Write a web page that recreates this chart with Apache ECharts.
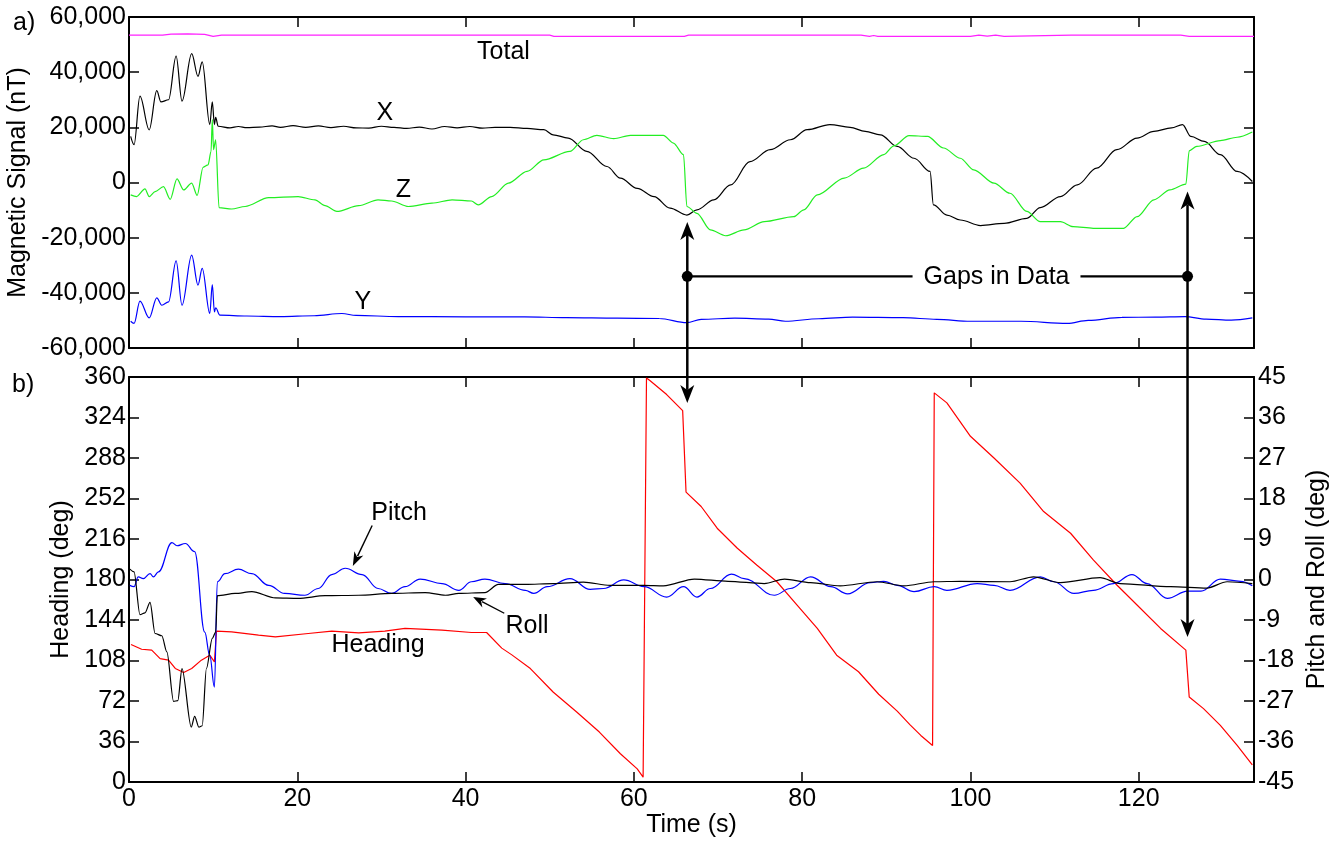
<!DOCTYPE html>
<html>
<head>
<meta charset="utf-8">
<title>Magnetic signal and attitude</title>
<script src="https://cdn.jsdelivr.net/npm/echarts@6/dist/echarts.min.js"></script>
<style>
  html, body { margin: 0; padding: 0; background: #fff; }
  #chart { width: 1334px; height: 842px; }
</style>
</head>
<body>
<div id="chart"></div>
<script>
var tMax = 133.7;

// a) magnetic field, nT
var totalT = [0, 4, 5, 7, 9, 10, 11, 30, 50, 50.5, 66, 66.5, 87, 88, 88.5, 89, 100, 101, 102, 103, 104, 112, 125, 126, 133.7];
var totalV = [53400, 53400, 53800, 53900, 53700, 53000, 53400, 53400, 53400, 53000, 53000, 53400, 53400, 53000, 53300, 53000, 53000, 53400, 53100, 53400, 53000, 53400, 53400, 53000, 53000];

var xT = [0.2, 0.6, 1.3, 2.4, 3.3, 3.8, 4.7, 5.6, 6.3, 7.45, 8.2, 8.7, 9.6, 9.9, 10.15, 10.3, 10.6, 12, 13, 14, 15.5, 17, 18, 19.5, 21, 22.5, 24, 25.5, 27, 28.5, 30, 31.5, 33, 34.5, 36, 37.5, 39, 40.5, 42, 43.5, 45.3, 47.3, 49.3, 50.4, 52.2, 54.4, 56.8, 58.4, 60.4, 62.4, 64.3, 66.3, 67.5, 69.5, 71.5, 73.8, 76.2, 78.6, 80.6, 83.3, 85.7, 87.5, 89.3, 91.3, 93.3, 95.2, 95.6, 97.2, 98.8, 101.2, 104.0, 106.7, 108.3, 110.7, 112.7, 115.0, 117.4, 119.8, 121.8, 123.9, 125.2, 126.2, 127.8, 129.7, 131.7, 133.5];
var xV = [16700, 13700, 31300, 19100, 33300, 29200, 30000, 45800, 29500, 46700, 38500, 43700, 21000, 29200, 21000, 23600, 20400, 19800, 20300, 19900, 20100, 20500, 20000, 20600, 20000, 20500, 19900, 20400, 19800, 19700, 20400, 20000, 19600, 20100, 19400, 20300, 19800, 20300, 19700, 20000, 20000, 19600, 19150, 17300, 16100, 11300, 5800, 1600, -2100, -5100, -9300, -11800, -9900, -6300, -850, 7600, 11900, 15500, 19150, 21000, 20000, 18500, 17300, 13100, 8800, 4000, -8100, -11800, -13600, -15600, -14800, -13000, -9100, -5100, -850, 5200, 11900, 16100, 18500, 19800, 21000, 16700, 14900, 10100, 4000, 360];

var zT = [0.2, 0.9, 1.9, 2.4, 3.1, 4.1, 4.9, 5.7, 6.5, 7.45, 8.1, 8.8, 9.4, 9.75, 9.9, 10.05, 10.3, 10.7, 12.2, 13.8, 16.6, 20.1, 22.1, 23.3, 24.7, 27.3, 29.6, 31.2, 33.2, 36.0, 38.4, 40.7, 41.5, 43.1, 45.1, 47.3, 49.3, 52.4, 54.0, 55.6, 57.6, 59.6, 63.5, 64.7, 65.9, 66.3, 67.5, 69.1, 70.9, 73.1, 75.5, 79.0, 80.2, 81.8, 85.0, 87.3, 89.7, 90.9, 92.7, 94.9, 96.8, 98.8, 100.4, 102.8, 104.7, 106.7, 108.3, 110.7, 112.2, 114.6, 118.2, 119.8, 121.8, 123.7, 125.6, 126.0, 126.9, 129.7, 131.7, 133.5];
var zV = [-4500, -5100, -2300, -5100, -3300, -1500, -6100, 1300, -2700, -200, -4700, 5500, 6400, 11300, 22800, 11900, 15500, -9100, -9600, -8700, -5500, -5100, -6300, -8400, -10500, -8400, -6300, -6700, -8700, -7500, -6300, -6700, -8100, -5100, -240, 4000, 8200, 11300, 15500, 17100, 15900, 17100, 17100, 14300, 10100, -8700, -11200, -17200, -19300, -17200, -14200, -12400, -9900, -4500, 1600, 5200, 10100, 13300, 17000, 16700, 12500, 8800, 4600, -240, -3900, -10500, -14200, -14200, -16000, -16600, -16600, -12400, -6300, -2700, -600, 11500, 13100, 15200, 16400, 18300];

var yT = [0.2, 0.6, 1.3, 2.4, 3.3, 3.9, 4.7, 5.6, 6.3, 7.45, 8.2, 8.7, 9.6, 9.9, 10.15, 10.3, 10.8, 14, 18, 22, 25.3, 27, 32, 40, 47, 52, 58, 63, 66.3, 68, 72, 76, 78, 82, 86, 92, 96, 100, 106, 111.5, 114, 118, 122, 125.5, 128, 131, 133.5];
var yV = [-50300, -51100, -43000, -49100, -41800, -44500, -43300, -28400, -44500, -26300, -37200, -31100, -47500, -37000, -46900, -45400, -48100, -48400, -48600, -48300, -47500, -48200, -48600, -48700, -48700, -49000, -49200, -49300, -50800, -49600, -49200, -49500, -50300, -49400, -48800, -49000, -49600, -50300, -50300, -51100, -50000, -48900, -48800, -48600, -49500, -49900, -49100];

// b) attitude, deg
var headT = [0.24, 1.5, 2.7, 3.7, 4.7, 5.5, 6.5, 7.45, 8.6, 9.6, 10.15, 10.4, 12.2, 15.4, 17.4, 21.3, 24.1, 27.3, 30.4, 32.8, 37.2, 40.7, 42.5, 44.3, 45.5, 47.7, 50.4, 53.2, 55.9, 58.4, 60.4, 61.1, 61.3, 61.5, 61.9, 63.9, 65.8, 66.2, 68.0, 69.9, 72.3, 74.6, 77.0, 79.4, 81.8, 84.1, 86.7, 89.1, 91.3, 92.8, 94.1, 95.5, 95.7, 97.2, 100.0, 102.8, 105.9, 108.7, 111.9, 114.6, 117.4, 119.8, 122.6, 125.6, 126.0, 127.7, 129.7, 131.7, 133.5];
var headV = [122.2, 118, 117.2, 109.7, 108.3, 100.9, 97.3, 100.9, 108.3, 112.7, 106.8, 134.1, 133.5, 130.5, 129, 132, 134.1, 132.6, 134.1, 136.5, 135, 132.9, 132.9, 119, 113, 100.8, 80, 62.2, 44.4, 25.1, 11.7, 4.3, 4.3, 359.2, 356.9, 344.4, 330.1, 257.7, 244.9, 225.6, 207.8, 192.9, 178, 157.3, 136.5, 112.7, 98, 78, 63, 51, 41.4, 32.5, 345.9, 337, 307.3, 288, 265.7, 240.4, 221.1, 197.4, 175.1, 157.3, 136.5, 117.2, 75.6, 65.2, 50.3, 32.5, 15.3];

var pitchT = [0.1, 0.6, 1.1, 1.7, 2.5, 2.9, 3.5, 5.1, 5.7, 6.7, 7.8, 9.0, 9.6, 10.15, 10.5, 11.4, 13.0, 14.6, 16.6, 18.5, 20.9, 22.5, 24.1, 25.7, 27.7, 29.6, 31.2, 32.8, 34.6, 37.2, 39.2, 40.7, 42.3, 44.7, 47.1, 48.1, 49.7, 52.4, 54.8, 56.4, 58.8, 61.2, 63.9, 65.9, 67.5, 69.1, 71.6, 73.1, 76.7, 78.6, 81.0, 83.4, 85.4, 88.1, 89.7, 91.3, 93.3, 95.7, 97.2, 100.8, 102.8, 104.7, 108.3, 109.9, 112.3, 114.6, 117.0, 119.2, 121.0, 123.4, 125.8, 127.4, 129.7, 132.1, 133.5];
var pitchV = [-1.3, -1.6, 0.6, 0.2, 1.3, 0.6, 1.7, 8.2, 7.5, 8.0, 6.2, -11.7, -16.9, -23.9, -0.5, 1.3, 2.3, 1.3, -1.3, -3.1, -3.5, -2.0, 1.1, 2.5, 1.1, -2.0, -3.1, -1.6, 0.1, -0.9, -2.4, -0.5, 0.1, -0.9, -2.4, -3.1, -1.6, 0.2, -2.2, -2.0, -0.1, -1.6, -3.9, -1.6, -3.9, -2.0, 1.2, 0.2, -3.5, -2.0, 0.6, -1.6, -3.2, -0.7, -0.4, -1.3, -2.7, -1.6, -2.4, -0.9, -1.3, -2.4, 0.6, -0.5, -3.1, -2.4, -0.9, 1.1, -0.9, -4.2, -2.6, -2.6, 0.1, -0.4, -1.4];

var rollT = [0.1, 0.6, 1.3, 1.9, 2.5, 3.1, 3.9, 4.5, 5.3, 5.8, 6.3, 7.4, 7.8, 8.3, 8.7, 9.2, 9.9, 10.3, 10.5, 12.6, 14.6, 17.4, 20.1, 23.3, 27.3, 31.2, 35.2, 37.6, 39.2, 42.3, 43.9, 47.1, 50.4, 54, 57.2, 61.2, 63.5, 67.2, 71.2, 75.5, 77.9, 81.0, 84.5, 88.9, 92.1, 95.7, 98.8, 104.7, 107.5, 110.7, 115.4, 117.8, 123.8, 128.1, 130.5, 133.5];
var rollV = [2.3, 1.7, -7.8, -7.4, -5.1, -12, -12.5, -16.1, -27.1, -26.9, -19.8, -32.8, -30.4, -32.8, -32.5, -19.8, -13.1, -11.7, -3.6, -3.1, -2.7, -4.1, -4.2, -3.6, -3.5, -3.1, -2.9, -3.5, -3.1, -2.9, -1.1, -1.1, -0.9, -0.6, -1.3, -1.3, -1.4, 0.1, -0.4, -0.9, 0.1, -0.7, -1.4, -0.5, -1.4, -0.5, -0.4, -0.5, 0.6, -0.7, 0.4, -0.9, -1.6, -1.9, -0.5, -0.9];

var font = '"Liberation Sans", Arial, Helvetica, sans-serif';

function zip(t, v) {
  return t.map(function (x, i) { return [x, v[i]]; });
}

function timeAxis(grid, pos, labels, name) {
  return {
    type: 'value', gridIndex: grid, position: pos,
    min: 0, max: tMax, interval: 20,
    name: name || '', nameLocation: 'middle', nameGap: 31,
    nameTextStyle: {color: '#000', fontSize: 25, fontFamily: font},
    axisLine: {show: true, onZero: false, lineStyle: {color: '#000', width: 2}},
    axisTick: {show: true, inside: true, length: 10, lineStyle: {color: '#000', width: 1.5}},
    splitLine: {show: false},
    axisLabel: {
      show: labels, margin: 5, color: '#000', fontSize: 25, fontFamily: font,
      formatter: function (v) { return v % 20 === 0 ? String(v) : ''; }
    }
  };
}

function valueAxis(grid, pos, min, max, step, labels, name, gap, margin) {
  return {
    type: 'value', gridIndex: grid, position: pos,
    min: min, max: max, interval: step,
    name: name || '', nameLocation: 'middle', nameGap: gap || 0,
    nameTextStyle: {color: '#000', fontSize: 25, fontFamily: font},
    axisLine: {show: true, onZero: false, lineStyle: {color: '#000', width: 2}},
    axisTick: {show: true, inside: true, length: 10, lineStyle: {color: '#000', width: 1.5}},
    splitLine: {show: false},
    axisLabel: {show: labels, margin: margin || 4, color: '#000', fontSize: 25, fontFamily: font}
  };
}

function line(name, x, y, data, color, smooth) {
  return {
    name: name, type: 'line', xAxisIndex: x, yAxisIndex: y,
    data: data, showSymbol: false, symbol: 'none',
    smooth: smooth || false, smoothMonotone: 'x',
    lineStyle: {color: color, width: 1.2}
  };
}

var chart = echarts.init(document.getElementById('chart'));

chart.setOption({
  animation: false,
  backgroundColor: '#fff',
  textStyle: {fontFamily: font},
  grid: [
    {left: 129, right: 80, top: 17, height: 331, outerBoundsMode: 'none'},
    {left: 129, right: 80, top: 377, height: 405, outerBoundsMode: 'none'}
  ],
  xAxis: [
    timeAxis(0, 'bottom', false),
    timeAxis(0, 'top', false),
    timeAxis(1, 'bottom', true, 'Time (s)'),
    timeAxis(1, 'top', false)
  ],
  yAxis: [
    valueAxis(0, 'left', -60000, 60000, 20000, true, 'Magnetic Signal (nT)', 96, 3),
    valueAxis(0, 'right', -60000, 60000, 20000, false),
    valueAxis(1, 'left', 0, 360, 36, true, 'Heading (deg)', 55, 3),
    valueAxis(1, 'right', -45, 45, 9, true, 'Pitch and Roll (deg)', 43, 4)
  ],
  series: [
    line('Total', 0, 0, zip(totalT, totalV), '#ff22ff'),
    line('X', 0, 0, zip(xT, xV), '#000000', 0.35),
    line('Z', 0, 0, zip(zT, zV), '#22ee22', 0.3),
    line('Y', 0, 0, zip(yT, yV), '#0000ff', 0.35),
    line('Heading', 2, 2, zip(headT, headV), '#ff0000'),
    line('Pitch', 2, 3, zip(pitchT, pitchV), '#0000ff', 0.4),
    line('Roll', 2, 3, zip(rollT, rollV), '#000000', 0.3)
  ]
});

// annotations, placed in data coordinates
function topPx(p) { return chart.convertToPixel({seriesIndex: 0}, p); }
function botPx(p) { return chart.convertToPixel({seriesIndex: 4}, p); }

function label(text, p, extra) {
  var s = {
    text: text, fill: '#000', fontSize: 25, fontFamily: font,
    align: 'center', verticalAlign: 'middle',
    textAlign: 'center', textVerticalAlign: 'middle'
  };
  for (var k in extra) s[k] = extra[k];
  return {type: 'text', x: p[0], y: p[1], z: 20, style: s};
}

function back(tip, tail, d) {
  var dx = tip[0] - tail[0], dy = tip[1] - tail[1];
  var n = Math.sqrt(dx * dx + dy * dy);
  return [tip[0] - dx / n * d, tip[1] - dy / n * d];
}

function head(tip, tail, len, half, notch) {
  var dx = tip[0] - tail[0], dy = tip[1] - tail[1];
  var n = Math.sqrt(dx * dx + dy * dy);
  dx /= n; dy /= n;
  var bx = tip[0] - dx * len, by = tip[1] - dy * len;
  return {
    type: 'polygon', z: 15,
    shape: {points: [tip, [bx - dy * half, by + dx * half], back(tip, tail, len - notch), [bx + dy * half, by - dx * half]]},
    style: {fill: '#000'}
  };
}

function seg(a, b, w) {
  return {type: 'line', z: 10, shape: {x1: a[0], y1: a[1], x2: b[0], y2: b[1]}, style: {stroke: '#000', lineWidth: w}};
}

function doubleArrow(a, b) {
  return [
    seg(back(a, b, 13), back(b, a, 13), 2.5),
    head(a, b, 18, 7, 5),
    head(b, a, 18, 7, 5)
  ];
}

function arrow(tail, tip, len, half) {
  return [seg(tail, back(tip, tail, len - 3), 1.4), head(tip, tail, len, half, 4)];
}

var gapA = [topPx([66.35, -14300]), botPx([66.35, 337])];
var gapB = [topPx([125.8, -3300]), botPx([125.8, 129])];
var dotA = topPx([66.35, -34000]);
var dotB = topPx([125.8, -34000]);
var pitchArrow = [botPx([28.9, 228]), botPx([26.6, 192])];
var rollArrow = [botPx([44.6, 150]), botPx([40.9, 164.4])];

var els = [];
els = els.concat(doubleArrow(gapA[0], gapA[1]), doubleArrow(gapB[0], gapB[1]));
els.push(seg(dotA, dotB, 2.2));
els.push({type: 'circle', z: 16, shape: {cx: dotA[0], cy: dotA[1], r: 5.5}, style: {fill: '#000'}});
els.push({type: 'circle', z: 16, shape: {cx: dotB[0], cy: dotB[1], r: 5.5}, style: {fill: '#000'}});
els.push(label('Gaps in Data', topPx([103.1, -34400]), {backgroundColor: '#fff', padding: [2, 11]}));
els = els.concat(arrow(pitchArrow[0], pitchArrow[1], 14, 5), arrow(rollArrow[0], rollArrow[1], 13, 5));

els.push(label('Total', topPx([44.5, 47300])));
els.push(label('X', topPx([30.4, 25300])));
els.push(label('Z', topPx([32.6, -2600])));
els.push(label('Y', topPx([27.8, -43500])));
els.push(label('Pitch', botPx([32.1, 238.8])));
els.push(label('Roll', botPx([47.3, 139])));
els.push(label('Heading', botPx([29.6, 121.6])));

els.push({type: 'text', left: 13, top: 11, z: 20, style: {text: 'a)', fill: '#000', fontSize: 25, fontFamily: font}});
els.push({type: 'text', left: 12, top: 373, z: 20, style: {text: 'b)', fill: '#000', fontSize: 25, fontFamily: font}});

chart.setOption({graphic: {elements: els}});
</script>
</body>
</html>
